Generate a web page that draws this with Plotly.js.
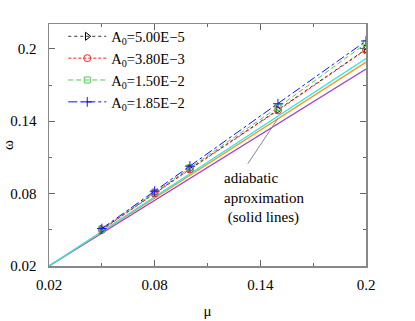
<!DOCTYPE html>
<html>
<head>
<meta charset="utf-8">
<script src="https://cdn.plot.ly/plotly-3.0.1.min.js"></script>
<style>
  html, body { margin: 0; padding: 0; background: #fff; }
  #plot { width: 415px; height: 321px; }
</style>
</head>
<body>
<div id="plot"></div>
<script>
// simulation points
var mu = [0.05, 0.08, 0.1, 0.15, 0.2];
var omegaA1 = [0.0502, 0.0806, 0.1005, 0.1495, 0.1997];
var omegaA2 = [0.0499, 0.0802, 0.1001, 0.1490, 0.1993];
var omegaA3 = [0.0505, 0.0811, 0.1014, 0.1515, 0.2045];
var omegaA4 = [0.0510, 0.0820, 0.1028, 0.1545, 0.2065];
var seriesNames = ["A<sub>0</sub>=5.00E\u22125", "A<sub>0</sub>=3.80E\u22123",
                   "A<sub>0</sub>=1.50E\u22122", "A<sub>0</sub>=1.85E\u22122"];

// adiabatic approximation (solid lines)
var muAd = [0.02, 0.05, 0.08, 0.1, 0.15, 0.2];
var adPurple = [0.02, 0.0472, 0.0744, 0.0926, 0.1379, 0.1833];
var adOrange = [0.02, 0.0482, 0.0763, 0.0951, 0.1420, 0.1890];
var adCyan = [0.02, 0.0487, 0.0773, 0.0964, 0.1442, 0.1920];

var serif = "Liberation Serif";

function solid(y, color) {
    return {
        x: muAd, y: y, mode: "lines", showlegend: false, hoverinfo: "skip",
        line: { color: color, width: 1.3 }
    };
}

var plotData = [
    solid(adPurple, "#9b3fd6"),
    solid(adOrange, "#ff9a1a"),
    solid(adCyan, "#22e8f0"),
    {
        x: mu, y: omegaA1, mode: "lines+markers", name: seriesNames[0],
        line: { color: "#333", width: 1, dash: "dot" },
        marker: { symbol: "triangle-right-open", size: 7, color: "#000", line: { width: 1 } }
    },
    {
        x: mu, y: omegaA2, mode: "lines+markers", name: seriesNames[1],
        line: { color: "#ff2020", width: 1, dash: "3px,2px" },
        marker: { symbol: "circle-open", size: 7, color: "#ff2020", line: { width: 1 } }
    },
    {
        x: mu, y: omegaA3, mode: "lines+markers", name: seriesNames[2],
        line: { color: "#55c855", width: 1, dash: "5px,3px" },
        marker: { symbol: "square-open", size: 6, color: "#55c855", line: { width: 1 } }
    },
    {
        x: mu, y: omegaA4, mode: "lines+markers", name: seriesNames[3],
        line: { color: "#1010ff", width: 1, dash: "dashdot" },
        marker: { symbol: "cross-thin-open", size: 7, color: "#1010ff", line: { width: 1, color: "#1010ff" } }
    }
];

var axisCommon = {
    showgrid: false, zeroline: false,
    showline: true, linecolor: "#888", linewidth: 1.5, mirror: "ticks",
    ticks: "inside", ticklen: 6, tickcolor: "#666", tickwidth: 1,
    tickfont: { family: serif, size: 15, color: "#000" },
    minor: { ticks: "inside", ticklen: 3, tickcolor: "#666", tickvals: [0.05, 0.11, 0.17] }
};

var layout = {
    width: 415, height: 321,
    margin: { l: 49, r: 49, t: 24, b: 55 },
    paper_bgcolor: "#fff", plot_bgcolor: "#fff",
    showlegend: true,
    legend: {
        x: 0.045, y: 1.015, xanchor: "left", yanchor: "top",
        bgcolor: "rgba(0,0,0,0)", itemwidth: 38,
        font: { family: serif, size: 14.5, color: "#000" },
        tracegroupgap: 0
    },
    xaxis: Object.assign({}, axisCommon, {
        range: [0.02, 0.2],
        tickvals: [0.02, 0.08, 0.14, 0.2], ticktext: ["0.02", "0.08", "0.14", "0.2"],
        ticklabelstandoff: 4,
        title: { text: "\u03bc", font: { family: serif, size: 15, color: "#000" }, standoff: 14 }
    }),
    yaxis: Object.assign({}, axisCommon, {
        range: [0.02, 0.2206],
        tickvals: [0.02, 0.08, 0.14, 0.2], ticktext: ["0.02", "0.08", "0.14", "0.2"],
        ticklabelstandoff: 8,
        title: { text: "\u03c9", font: { family: serif, size: 15, color: "#000" }, standoff: 10 }
    }),
    shapes: [{
        type: "line", xref: "x", yref: "y",
        x0: 0.1329, y0: 0.1048, x1: 0.15, y1: 0.1423,
        line: { color: "#888", width: 1 }
    }],
    annotations: [{
        xref: "x", yref: "y", x: 0.1183, y: 0.1012,
        xanchor: "left", yanchor: "top", align: "left", showarrow: false,
        text: "adiabatic<br>aproximation<br>&nbsp;(solid lines)",
        font: { family: serif, size: 15, color: "#000" }
    }]
};

Plotly.newPlot("plot", plotData, layout, { displayModeBar: false, staticPlot: true });
</script>
</body>
</html>
